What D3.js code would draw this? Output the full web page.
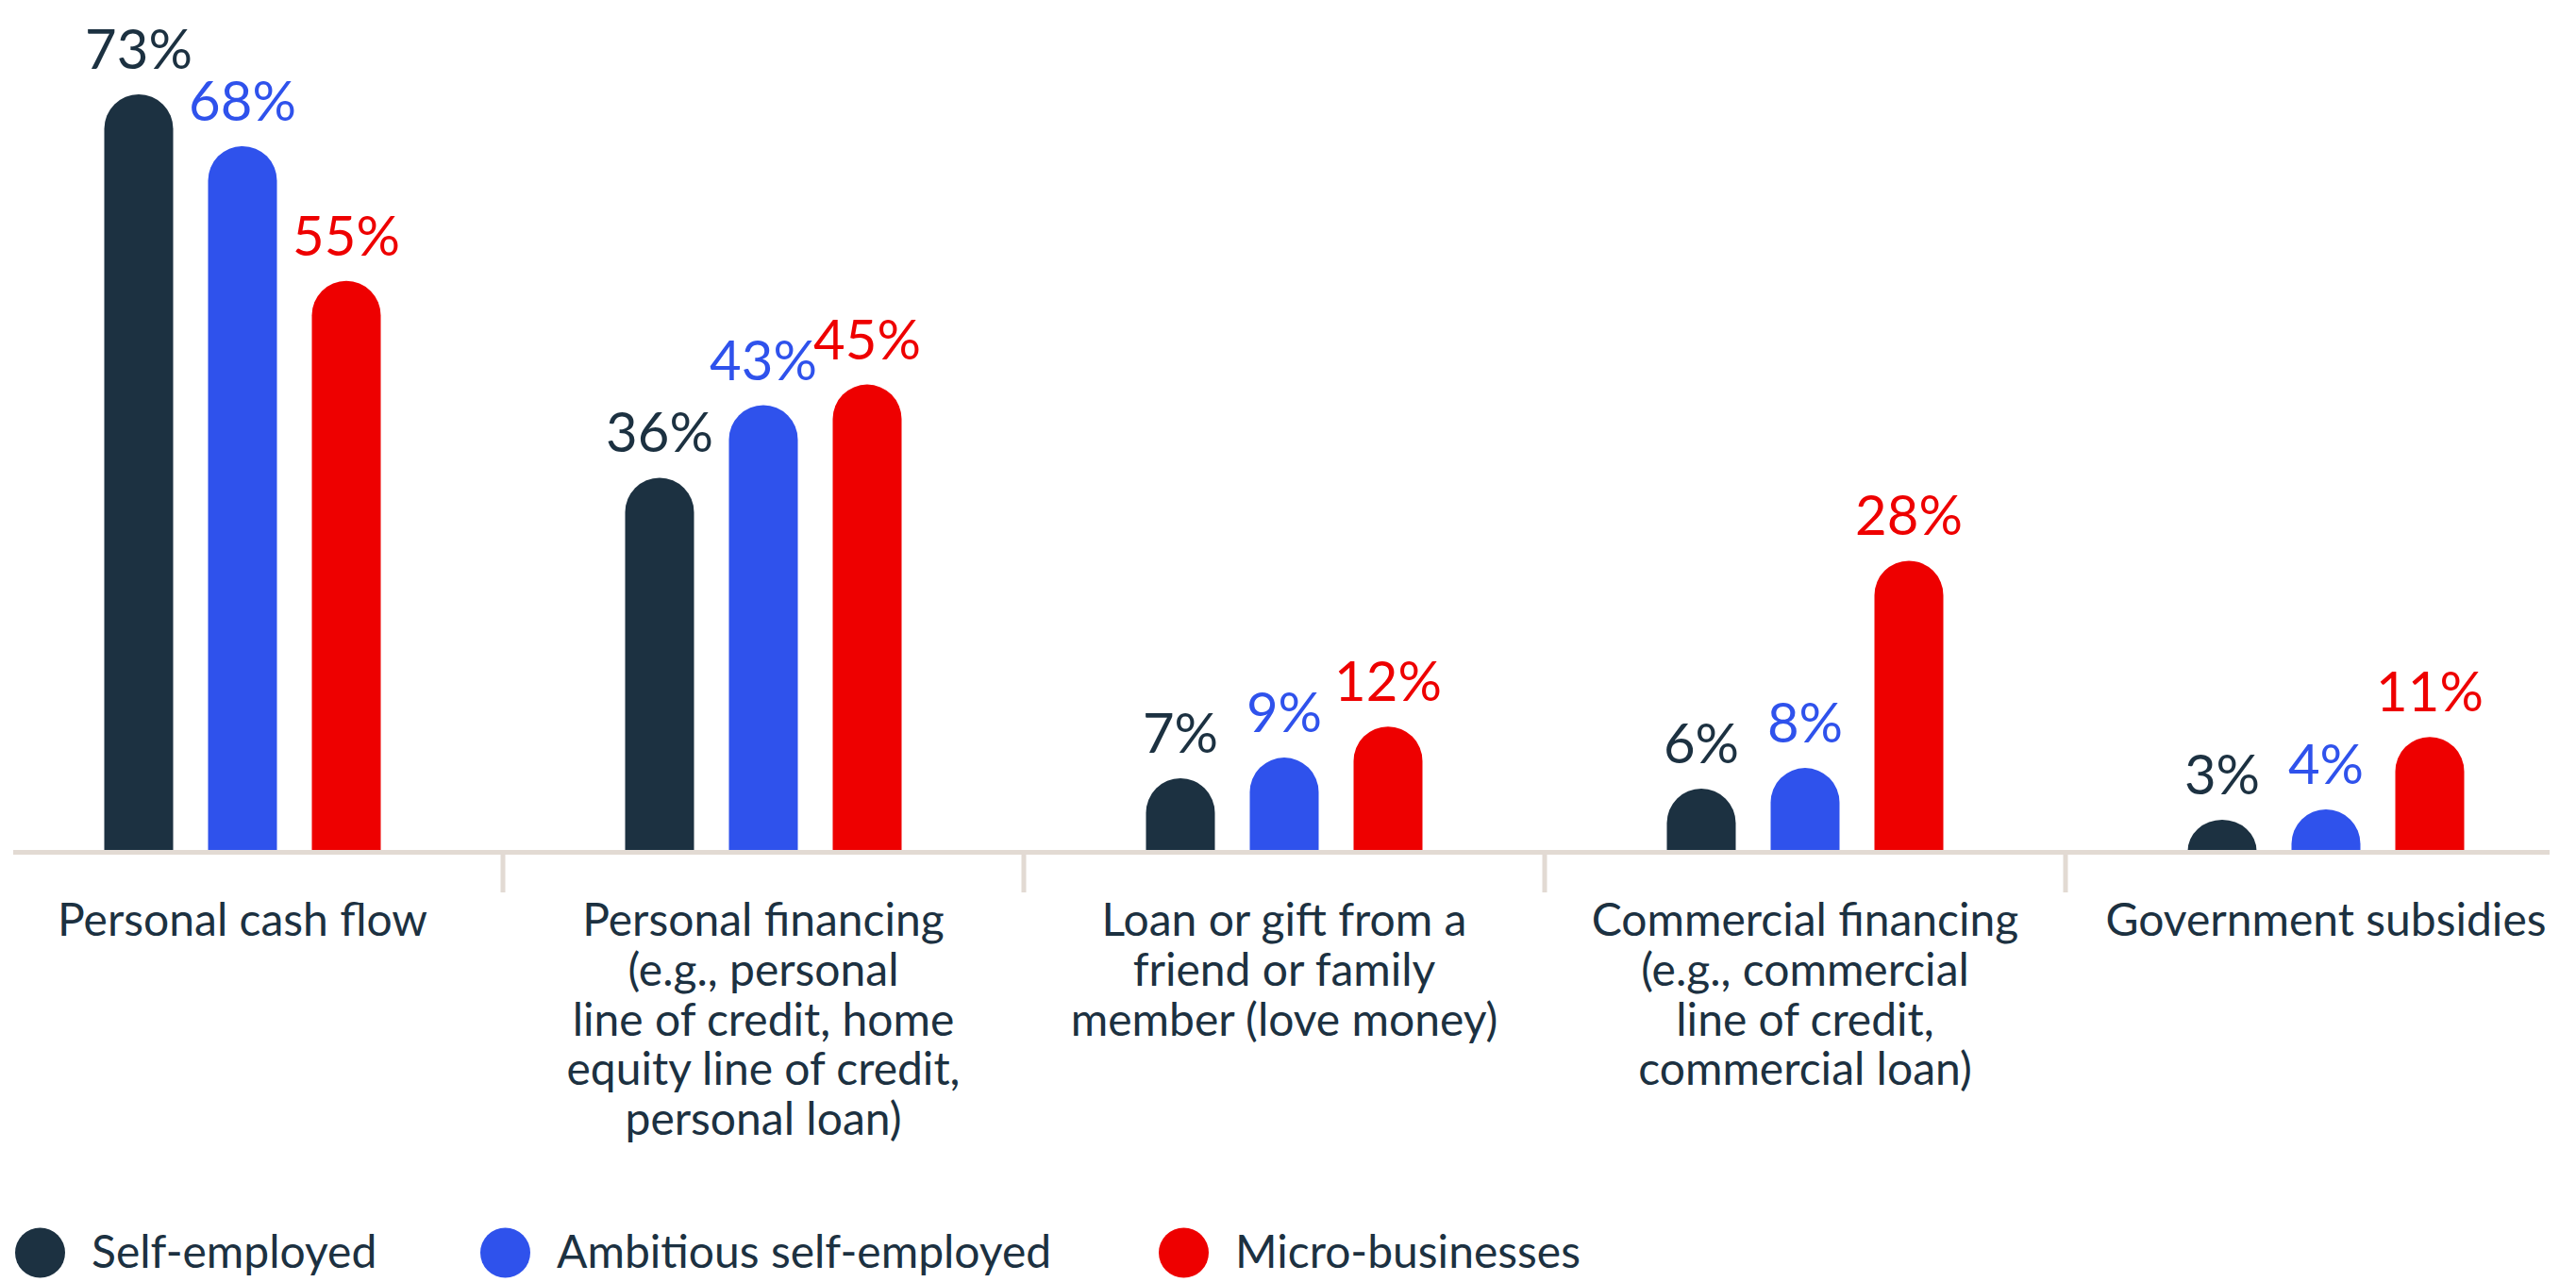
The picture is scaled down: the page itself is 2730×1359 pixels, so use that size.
<!DOCTYPE html>
<html>
<head>
<meta charset="utf-8">
<script src="https://cdn.jsdelivr.net/npm/d3@7"></script>
<style>
  html, body { margin: 0; padding: 0; background: #ffffff; }
  svg { display: block; }
  text { font-family: Lato, "Noto Sans", sans-serif; }
</style>
</head>
<body>
<svg id="chart" width="2730" height="1359"></svg>
<script>
// Funding sources by business type (share of respondents, %)
const categories = [
  "Personal cash flow",
  "Personal financing",
  "Loan or gift",
  "Commercial financing",
  "Government subsidies"
];
const categoryLines = [
  ["Personal cash flow"],
  ["Personal financing", "(e.g., personal", "line of credit, home", "equity line of credit,", "personal loan)"],
  ["Loan or gift from a", "friend or family", "member (love money)"],
  ["Commercial financing", "(e.g., commercial", "line of credit,", "commercial loan)"],
  ["Government subsidies"]
];
const seriesNames = ["Self-employed", "Ambitious self-employed", "Micro-businesses"];
const selfEmployed = [73, 36, 7, 6, 3];
const ambitiousSelfEmployed = [68, 43, 9, 8, 4];
const microBusinesses = [55, 45, 12, 28, 11];
const seriesColors = ["#1c3141", "#2f52ec", "#ee0000"];

const seriesValues = [selfEmployed, ambitiousSelfEmployed, microBusinesses];
const rows = categories.map((c, i) => ({
  category: c,
  lines: categoryLines[i],
  values: seriesNames.map((s, j) => ({ series: s, value: seriesValues[j][i], color: seriesColors[j] }))
}));

const svg = d3.select("#chart");
const textColor = "#1c3141";
const axisColor = "#e2dad3";
const baseY = 902;

const x = d3.scaleBand().domain(categories).range([-19, 2741]).paddingInner(0).paddingOuter(0);
const groupWidth = 293;
const x1 = d3.scaleBand().domain(seriesNames).range([0, groupWidth]).paddingInner(37 / 110).paddingOuter(0);
const y = d3.scaleLinear().domain([0, 73]).range([baseY, 100]);

// Bar with a rounded (semicircular) top
function roundedBar(x0, w, yTop) {
  const r = w / 2;
  const h = baseY - yTop;
  if (h >= r) {
    return `M${x0},${baseY}L${x0},${yTop + r}A${r},${r} 0 0 1 ${x0 + w},${yTop + r}L${x0 + w},${baseY}Z`;
  }
  return `M${x0},${baseY}A${r},${h} 0 0 1 ${x0 + w},${baseY}Z`;
}

const groups = svg.append("g").selectAll("g")
  .data(rows)
  .join("g")
  .attr("transform", d => `translate(${x(d.category) + x.bandwidth() / 2 - groupWidth / 2},0)`);

groups.selectAll("path")
  .data(d => d.values)
  .join("path")
  .attr("d", d => roundedBar(x1(d.series), x1.bandwidth(), y(d.value)))
  .attr("fill", d => d.color);

groups.selectAll("text.value")
  .data(d => d.values)
  .join("text")
  .attr("class", "value")
  .attr("x", d => x1(d.series) + x1.bandwidth() / 2)
  .attr("y", d => y(d.value) - 27)
  .attr("text-anchor", "middle")
  .attr("font-size", 58)
  .attr("fill", d => d.color)
  .text(d => d.value + "%");

// Baseline and category separators
svg.append("rect")
  .attr("x", 14).attr("y", baseY - 1)
  .attr("width", 2702 - 14).attr("height", 5)
  .attr("fill", axisColor);

svg.append("g").selectAll("rect")
  .data(categories.slice(1))
  .join("rect")
  .attr("x", d => x(d) - 2.5)
  .attr("y", baseY)
  .attr("width", 5)
  .attr("height", 44)
  .attr("fill", axisColor);

// Category labels
const labels = svg.append("g").selectAll("text")
  .data(rows)
  .join("text")
  .attr("text-anchor", "middle")
  .attr("font-size", 48)
  .attr("fill", textColor);

labels.selectAll("tspan")
  .data(d => d.lines.map(l => ({ line: l, cx: x(d.category) + x.bandwidth() / 2 })))
  .join("tspan")
  .attr("x", d => d.cx)
  .attr("y", (d, i) => 992 + i * 52.75)
  .text(d => d.line);

// Legend
const legendX = [42.5, 535.5, 1254.5];
const legend = svg.append("g").selectAll("g")
  .data(seriesNames)
  .join("g")
  .attr("transform", (d, i) => `translate(${legendX[i]},1328)`);

legend.append("circle")
  .attr("r", 26.5)
  .attr("fill", (d, i) => seriesColors[i]);

legend.append("text")
  .attr("x", 54.5)
  .attr("y", 16)
  .attr("font-size", 48)
  .attr("fill", textColor)
  .text(d => d);
</script>
</body>
</html>
